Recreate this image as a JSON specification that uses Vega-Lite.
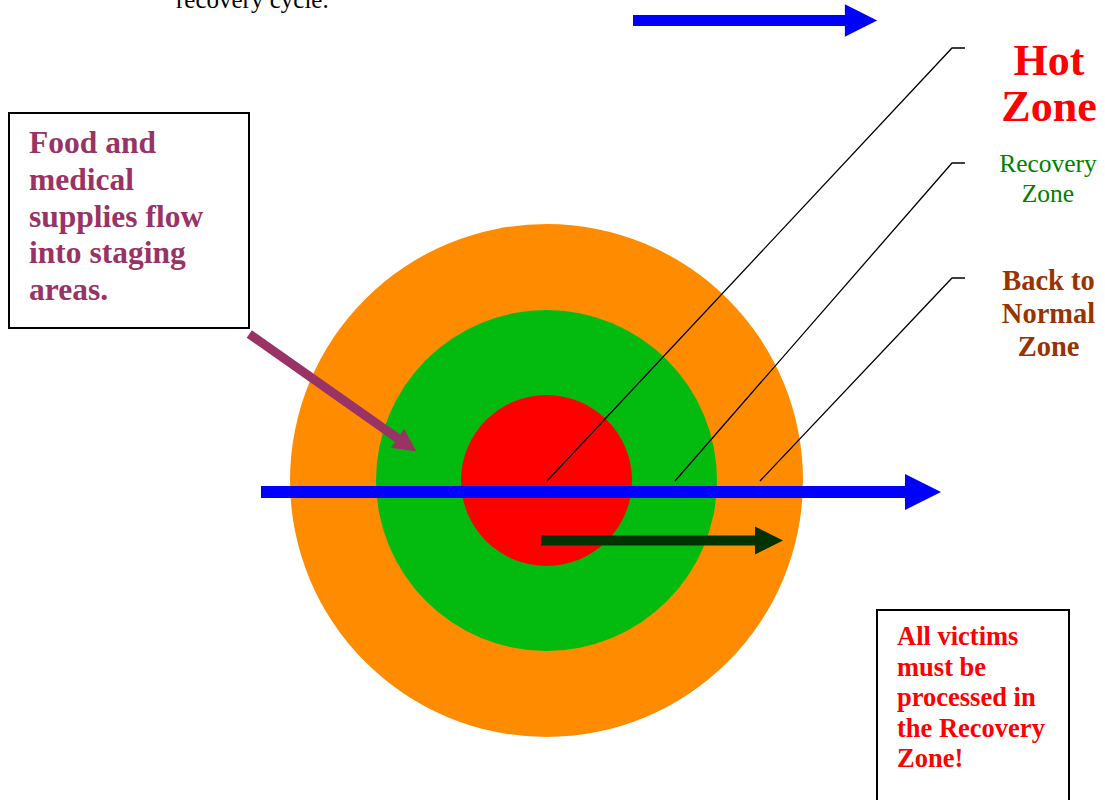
{
  "$schema": "https://vega.github.io/schema/vega-lite/v6.json",
  "width": 1105,
  "height": 800,
  "padding": 0,
  "autosize": {"type": "none"},
  "background": "white",
  "config": {"view": {"stroke": null}},
  "datasets": {
    "zones": [
      {"zone": "Back to Normal Zone", "x": 546.5, "y": 480.5, "r": 256.5},
      {"zone": "Recovery Zone", "x": 546.5, "y": 480.5, "r": 170.5},
      {"zone": "Hot Zone", "x": 546.5, "y": 480.5, "r": 85.5}
    ],
    "boxes": [
      {"box": "supplies", "x": 9, "x2": 249, "y": 113, "y2": 328},
      {"box": "victims", "x": 877, "x2": 1069, "y": 610, "y2": 806}
    ],
    "leaders": [
      {"zone": "Hot Zone", "step": 1, "x": 547, "y": 481},
      {"zone": "Hot Zone", "step": 2, "x": 952, "y": 48},
      {"zone": "Hot Zone", "step": 3, "x": 965, "y": 48},
      {"zone": "Recovery Zone", "step": 1, "x": 675, "y": 481},
      {"zone": "Recovery Zone", "step": 2, "x": 952, "y": 163},
      {"zone": "Recovery Zone", "step": 3, "x": 965, "y": 163},
      {"zone": "Back to Normal Zone", "step": 1, "x": 760, "y": 481},
      {"zone": "Back to Normal Zone", "step": 2, "x": 952, "y": 278},
      {"zone": "Back to Normal Zone", "step": 3, "x": 965, "y": 278}
    ],
    "shafts": [
      {"arrow": "cycle", "step": 1, "x": 261, "y": 492},
      {"arrow": "cycle", "step": 2, "x": 907, "y": 492},
      {"arrow": "top", "step": 1, "x": 633, "y": 20.5},
      {"arrow": "top", "step": 2, "x": 851, "y": 20.5},
      {"arrow": "victims", "step": 1, "x": 541, "y": 540.5},
      {"arrow": "victims", "step": 2, "x": 759, "y": 540.5},
      {"arrow": "supplies", "step": 1, "x": 249.3, "y": 334},
      {"arrow": "supplies", "step": 2, "x": 400, "y": 440}
    ],
    "heads": [
      {"arrow": "cycle", "x": 923, "y": 492, "angle": 0},
      {"arrow": "top", "x": 861, "y": 20.5, "angle": 0},
      {"arrow": "victims", "x": 769, "y": 540.5, "angle": 0},
      {"arrow": "supplies", "x": 407, "y": 445, "angle": 35}
    ]
  },
  "encoding": {
    "x": {"field": "x", "type": "quantitative", "scale": {"domain": [0, 1105], "nice": false, "zero": false}, "axis": null},
    "y": {"field": "y", "type": "quantitative", "scale": {"domain": [0, 800], "nice": false, "zero": false, "reverse": true}, "axis": null}
  },
  "layer": [
    {
      "data": {"name": "zones"},
      "mark": {"type": "arc", "theta": 0, "theta2": 6.2832, "opacity": 1, "stroke": null},
      "encoding": {
        "radius": {"field": "r", "type": "quantitative", "scale": null, "stack": null},
        "fill": {"field": "zone", "type": "nominal", "sort": null,
          "scale": {"domain": ["Back to Normal Zone", "Recovery Zone", "Hot Zone"], "range": ["#FF8C00", "#03BB0E", "#FF0000"]},
          "legend": null}
      }
    },
    {
      "data": {"name": "boxes"},
      "mark": {"type": "rect", "fill": "white", "stroke": "black", "strokeWidth": 2, "opacity": 1},
      "encoding": {
        "x2": {"field": "x2"},
        "y2": {"field": "y2"}
      }
    },
    {
      "data": {"name": "leaders"},
      "mark": {"type": "line", "stroke": "black", "strokeWidth": 1.3, "interpolate": "linear"},
      "encoding": {
        "detail": {"field": "zone", "type": "nominal"},
        "order": {"field": "step", "type": "quantitative"}
      }
    },
    {
      "data": {"name": "shafts"},
      "mark": {"type": "line", "strokeCap": "butt", "opacity": 1},
      "encoding": {
        "stroke": {"field": "arrow", "type": "nominal",
          "scale": {"domain": ["cycle", "top", "victims", "supplies"], "range": ["#0000FF", "#0000FF", "#003300", "#993366"]},
          "legend": null},
        "strokeWidth": {"field": "arrow", "type": "nominal",
          "scale": {"domain": ["cycle", "top", "victims", "supplies"], "range": [12, 9, 8, 7]},
          "legend": null},
        "order": {"field": "step", "type": "quantitative"}
      }
    },
    {
      "data": {"name": "heads"},
      "mark": {"type": "point", "shape": "M-1,-1L1,0L-1,1Z", "filled": true, "opacity": 1, "strokeWidth": 0},
      "encoding": {
        "fill": {"field": "arrow", "type": "nominal",
          "scale": {"domain": ["cycle", "top", "victims", "supplies"], "range": ["#0000FF", "#0000FF", "#003300", "#993366"]},
          "legend": null},
        "size": {"field": "arrow", "type": "nominal",
          "scale": {"domain": ["cycle", "top", "victims", "supplies"], "range": [1296, 530, 570, 530]},
          "legend": null},
        "angle": {"field": "angle", "type": "quantitative", "scale": null}
      }
    },
    {
      "data": {"values": [{"x": 176, "y": 8, "label": "recovery cycle."}]},
      "mark": {"type": "text", "font": "Liberation Serif", "fontSize": 25, "color": "black", "align": "left", "baseline": "alphabetic"},
      "encoding": {"text": {"field": "label"}}
    },
    {
      "data": {"values": [{"x": 1049, "y": 75, "label": "Hot\nZone"}]},
      "mark": {"type": "text", "font": "Liberation Serif", "fontSize": 44, "fontWeight": "bold", "color": "#FF0000", "align": "center", "baseline": "alphabetic", "lineBreak": "\n", "lineHeight": 46},
      "encoding": {"text": {"field": "label"}}
    },
    {
      "data": {"values": [{"x": 1048, "y": 172, "label": "Recovery\nZone"}]},
      "mark": {"type": "text", "font": "Liberation Serif", "fontSize": 25.5, "color": "#008000", "align": "center", "baseline": "alphabetic", "lineBreak": "\n", "lineHeight": 30},
      "encoding": {"text": {"field": "label"}}
    },
    {
      "data": {"values": [{"x": 1048.5, "y": 290, "label": "Back to\nNormal\nZone"}]},
      "mark": {"type": "text", "font": "Liberation Serif", "fontSize": 28.5, "fontWeight": "bold", "color": "#993300", "align": "center", "baseline": "alphabetic", "lineBreak": "\n", "lineHeight": 33},
      "encoding": {"text": {"field": "label"}}
    },
    {
      "data": {"values": [{"x": 29, "y": 153, "label": "Food and\nmedical\nsupplies flow\ninto staging\nareas."}]},
      "mark": {"type": "text", "font": "Liberation Serif", "fontSize": 31.5, "fontWeight": "bold", "color": "#993366", "align": "left", "baseline": "alphabetic", "lineBreak": "\n", "lineHeight": 36.75},
      "encoding": {"text": {"field": "label"}}
    },
    {
      "data": {"values": [{"x": 897, "y": 645, "label": "All victims\nmust be\nprocessed in\nthe Recovery\nZone!"}]},
      "mark": {"type": "text", "font": "Liberation Serif", "fontSize": 26.5, "fontWeight": "bold", "color": "#FF0000", "align": "left", "baseline": "alphabetic", "lineBreak": "\n", "lineHeight": 30.5},
      "encoding": {"text": {"field": "label"}}
    }
  ],
  "resolve": {"scale": {"fill": "independent", "stroke": "independent", "strokeWidth": "independent", "size": "independent"}}
}
